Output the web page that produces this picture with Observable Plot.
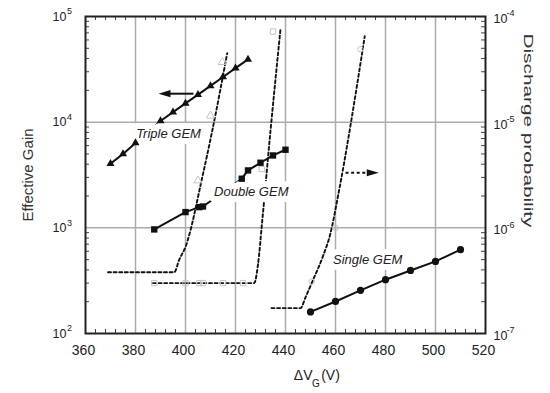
<!DOCTYPE html>
<html><head><meta charset="utf-8">
<script src="https://cdn.jsdelivr.net/npm/d3@7"></script>
<script src="https://cdn.jsdelivr.net/npm/@observablehq/plot@0.6"></script>
<style>body{margin:0;background:#fff}</style>
</head><body><div id="chart"></div>
<script>
// Effective gain series
const tripleV = [370, 375, 380, 390, 395, 400, 405, 410, 415, 420, 425];
const tripleGain = [4050, 5000, 6350, 10260, 12450, 15070, 18240, 22080, 26770, 32430, 39270];
const doubleV = [387.5, 400, 405.5, 407, 422.5, 425, 430, 435, 440];
const doubleGain = [966, 1409, 1570, 1592, 2917, 3494, 4130, 4842, 5483];
const singleV = [450, 460, 470, 480, 490, 500, 510];
const singleGain = [160, 201, 256, 323, 395, 481, 621];

// Discharge probability curves (dashed)
const tripleDischV = [369, 395.5, 397.5, 400, 406.7, 410.7, 416.7];
const tripleDischP = [3.8e-7, 3.8e-7, 5.0e-7, 6.6e-7, 3.0e-6, 8.3e-6, 4.5e-5];
const doubleDischV = [387, 427.5, 429, 430.7, 434, 438];
const doubleDischP = [3.0e-7, 3.0e-7, 4.5e-7, 1.17e-6, 8.3e-6, 7.6e-5];
const singleDischV = [434.4, 446, 448, 451, 455, 458, 461, 471.7];
const singleDischP = [1.74e-7, 1.74e-7, 2.2e-7, 3.2e-7, 5.4e-7, 8.9e-7, 2.0e-6, 6.5e-5];

// faint measured discharge points
const tripleMeasV = [405, 410, 414.7];
const tripleMeasP = [2.8e-6, 1.15e-5, 3.7e-5];
const doubleMeasV = [387.5, 400, 405.5, 407, 415, 423, 430.5, 435];
const doubleMeasP = [3.0e-7, 3.0e-7, 3.0e-7, 3.0e-7, 3.0e-7, 3.0e-7, 3.6e-6, 7.2e-5];
const singleMeasV = [450.5, 460, 470];
const singleMeasP = [3.1e-7, 1.0e-6, 4.9e-5];

// ticks
const xTicks = [360, 380, 400, 420, 440, 460, 480, 500, 520];
const gainTicks = [100, 1000, 10000, 100000];
const gainExp = ["2", "3", "4", "5"];
const probExp = ["-7", "-6", "-5", "-4"];
const minorX = [364,368,372,376,384,388,392,396,404,408,412,416,424,428,432,436,444,448,452,456,464,468,472,476,484,488,492,496,504,508,512,516];
const minorY = [200,300,400,500,600,700,800,900,2000,3000,4000,5000,6000,7000,8000,9000,20000,30000,40000,50000,60000,70000,80000,90000];

// labels & arrows (data units)
const seriesLabels = ["Triple GEM", "Double GEM", "Single GEM"];
const labelV = [393.2, 426.3, 472.9];
const labelGain = [7820, 2180, 502];
const leftArrow = {from: 403.2, to: 391.6, gain: 18600};
const rightArrow = {from: 464, to: 474.9, gain: 3320};

const PSCALE = 1e9; // right axis 1e-7..1e-4 shares positions with 1e2..1e5

const zip = (xs, ys) => xs.map((x, i) => ({x, y: ys[i]}));
const triple = zip(tripleV, tripleGain);
const dbl = zip(doubleV, doubleGain);
const single = zip(singleV, singleGain);
const dischP = (xs, ps, s) => xs.map((x, i) => ({x, y: ps[i] * PSCALE, s}));
const disch = [...dischP(tripleDischV, tripleDischP, "t"), ...dischP(doubleDischV, doubleDischP, "d"), ...dischP(singleDischV, singleDischP, "s")];
const labels = seriesLabels.map((t, i) => ({t, x: labelV[i], y: labelGain[i]}));
const ticksL = gainTicks.map((v, i) => ({v, e: gainExp[i], pe: probExp[i]}));

const arrowHead = {
  draw(ctx) { ctx.moveTo(0, -6); ctx.lineTo(3.6, 6); ctx.lineTo(-3.6, 6); ctx.closePath(); }
};

const gridStyle = {stroke: "#ababab", strokeOpacity: 1, strokeWidth: 1.5};
const font = "'Liberation Sans', Arial, Helvetica, sans-serif";
const dash = "3,2.6";

const chart = Plot.plot({
  width: 550, height: 393,
  marginLeft: 85, marginRight: 65, marginTop: 16, marginBottom: 60,
  style: {fontFamily: font, fontSize: "13px", color: "#222", background: "#fff"},
  x: {domain: [360, 520]},
  y: {type: "log", domain: [100, 100000], axis: null},
  marks: [
    Plot.gridX(xTicks.slice(1, -1), gridStyle),
    Plot.gridY([1000, 10000], gridStyle),
    Plot.ruleX(minorX, {insetTop: 313, stroke: "#444", strokeWidth: 1}),
    Plot.ruleX(minorX, {insetBottom: 313, stroke: "#444", strokeWidth: 1}),
    Plot.ruleY(minorY, {insetRight: 396, stroke: "#444", strokeWidth: 1}),
    Plot.ruleY(minorY, {insetLeft: 396, stroke: "#444", strokeWidth: 1}),
    // dashed discharge curves
    Plot.line(disch, {x: "x", y: "y", z: "s", stroke: "#111", strokeWidth: 1.9, strokeDasharray: dash, curve: "monotone-x"}),
    // solid gain lines
    Plot.line(triple, {x: "x", y: "y", stroke: "#111", strokeWidth: 2}),
    Plot.line(dbl, {x: "x", y: "y", stroke: "#111", strokeWidth: 2}),
    Plot.line(single, {x: "x", y: "y", stroke: "#111", strokeWidth: 2}),
    // series labels with white halo
    Plot.text(labels, {x: "x", y: "y", text: "t", fontStyle: "italic", fontSize: 13, fill: "#222", stroke: "#fff", strokeWidth: 12, lineAnchor: "middle"}),
    // faint measured discharge points
    Plot.dot(zip(tripleMeasV, tripleMeasP.map(p => p * PSCALE)), {x: "x", y: "y", symbol: "triangle", r: 3, stroke: "#c4c4c4", strokeWidth: 1}),
    Plot.dot(zip(doubleMeasV, doubleMeasP.map(p => p * PSCALE)), {x: "x", y: "y", symbol: "square", r: 3, stroke: "#c4c4c4", strokeWidth: 1}),
    Plot.dot(zip(singleMeasV, singleMeasP.map(p => p * PSCALE)), {x: "x", y: "y", symbol: "circle", r: 2.8, stroke: "#c4c4c4", strokeWidth: 1}),
    // gain markers
    Plot.dot(triple, {x: "x", y: "y", symbol: "triangle", r: 3, fill: "#111"}),
    Plot.dot(dbl, {x: "x", y: "y", symbol: "square", r: 3.6, fill: "#111"}),
    Plot.dot(single, {x: "x", y: "y", symbol: "circle", r: 3.6, fill: "#111"}),
    // arrows
    Plot.link([leftArrow], {x1: "from", x2: "to", y1: "gain", y2: "gain", stroke: "#111", strokeWidth: 2}),
    Plot.dot([leftArrow], {x: "to", y: "gain", symbol: arrowHead, rotate: -90, fill: "#111", stroke: "none"}),
    Plot.link([rightArrow], {x1: "from", x2: "to", y1: "gain", y2: "gain", stroke: "#111", strokeWidth: 2, strokeDasharray: dash}),
    Plot.dot([rightArrow], {x: "to", y: "gain", symbol: arrowHead, rotate: 90, fill: "#111", stroke: "none"}),
    // frame
    Plot.frame({stroke: "#222", strokeWidth: 2}),
    // x axis
    Plot.axisX({ticks: xTicks, tickSize: 0, tickPadding: 12, fontSize: 14, dx: -2, label: null, fill: "#222"}),
    // left axis tick labels 10^n
    Plot.text(ticksL, {x: () => 360, y: "v", text: () => "10", textAnchor: "end", dx: -19, fontSize: 12.5, lineAnchor: "middle", fill: "#222"}),
    Plot.text(ticksL, {x: () => 360, y: "v", text: "e", textAnchor: "start", dx: -18.5, dy: -5, fontSize: 9, lineAnchor: "middle", fill: "#222"}),
    // right axis tick labels 10^-n
    Plot.text(ticksL, {x: () => 520, y: "v", text: () => "10", textAnchor: "start", dx: 8, dy: 2.5, fontSize: 12.5, lineAnchor: "middle", fill: "#222"}),
    Plot.text(ticksL, {x: () => 520, y: "v", text: "pe", textAnchor: "start", dx: 21, dy: -3, fontSize: 9, lineAnchor: "middle", fill: "#222"}),
    // axis titles
    Plot.text(["Effective Gain"], {frameAnchor: "left", dx: -57, rotate: -90, fontSize: 15, textAnchor: "middle", lineAnchor: "middle", fill: "#333"}),
    Plot.text(["Discharge probability"], {frameAnchor: "top-right", dx: 43, dy: 114, rotate: 90, fontSize: 13.5, textAnchor: "middle", lineAnchor: "middle", fill: "#333"}),
    Plot.text(["ΔV"], {x: () => 440, frameAnchor: "bottom", dx: 8.3, dy: 42, textAnchor: "start", fontSize: 14, lineAnchor: "middle", fill: "#222"}),
    Plot.text(["G"], {x: () => 440, frameAnchor: "bottom", dx: 26.5, dy: 50, textAnchor: "start", fontSize: 10, lineAnchor: "middle", fill: "#222"}),
    Plot.text(["(V)"], {x: () => 440, frameAnchor: "bottom", dx: 35.7, dy: 42, textAnchor: "start", fontSize: 14, lineAnchor: "middle", fill: "#222"})
  ]
});

d3.select(chart).selectAll("text")
  .filter(function() { return this.textContent === "Discharge probability"; })
  .attr("textLength", 194).attr("lengthAdjust", "spacingAndGlyphs");

document.getElementById("chart").appendChild(chart);
</script>
</body></html>
